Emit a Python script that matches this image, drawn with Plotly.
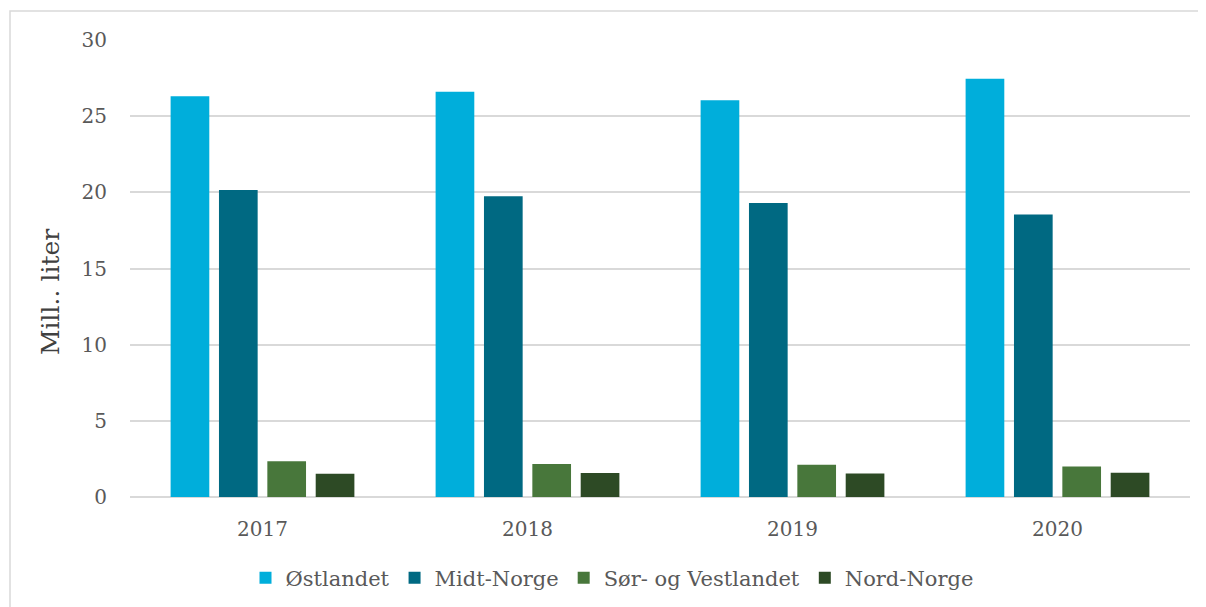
import plotly.graph_objects as go

years = ["2017", "2018", "2019", "2020"]
ostlandet = [26.3, 26.6, 26.05, 27.45]
midt_norge = [20.15, 19.75, 19.3, 18.55]
sor_vestlandet = [2.35, 2.17, 2.12, 2.0]
nord_norge = [1.52, 1.57, 1.55, 1.6]

series = [
    ("Østlandet", ostlandet, "#00AEDB"),
    ("Midt-Norge", midt_norge, "#006982"),
    ("Sør- og Vestlandet", sor_vestlandet, "#48773B"),
    ("Nord-Norge", nord_norge, "#2D4A25"),
]

FONT = "DejaVu Serif"
# page body has an 8px margin: screen coords = figure coords + 8
L, R, T, B = 122, 24, 32, 118
PW = 1206 - L - R
PH = 607 - T - B


def px_x(sx):
    return (sx - 8 - L) / PW


def px_y(sy):
    return (607 - B - (sy - 8)) / PH


fig = go.Figure()
for name, vals, col in series:
    fig.add_trace(go.Bar(x=years, y=vals, name=name, marker_color=col,
                         marker_line_width=0))

fig.update_layout(
    width=1206, height=607,
    margin=dict(l=L, r=R, t=T, b=B, autoexpand=False),
    paper_bgcolor="white", plot_bgcolor="white",
    barmode="group", bargap=0.27, bargroupgap=0.2,
    font=dict(family=FONT, size=20, color="#595959"),
    showlegend=True,
    legend=dict(orientation="h", x=px_x(612), xanchor="center", y=px_y(578), yanchor="middle",
                font=dict(family=FONT, size=21, color="#595959"),
                traceorder="normal", itemwidth=30, tracegroupgap=0),
    xaxis=dict(showgrid=False, showline=False, ticks="", tickfont=dict(size=20),
               ticklabelstandoff=18),
    yaxis=dict(range=[0, 30], dtick=5, showgrid=True, gridcolor="#D9D9D9",
               gridwidth=1.5, zeroline=True, zerolinecolor="#D9D9D9",
               zerolinewidth=1.5, ticks="", tickfont=dict(size=20),
               ticklabelstandoff=22),
    annotations=[dict(text="Mill.. liter", xref="paper", yref="paper",
                      x=px_x(50), y=px_y(292), xanchor="center", yanchor="middle",
                      textangle=-90, showarrow=False,
                      font=dict(family=FONT, size=25, color="#404040"))],
    shapes=[dict(type="rect", xref="paper", yref="paper",
                 x0=px_x(10), x1=px_x(1212), y0=px_y(612), y1=px_y(11),
                 line=dict(color="#D9D9D9", width=1.5), fillcolor="rgba(0,0,0,0)",
                 layer="below")],
)

fig.write_html("out.html")
